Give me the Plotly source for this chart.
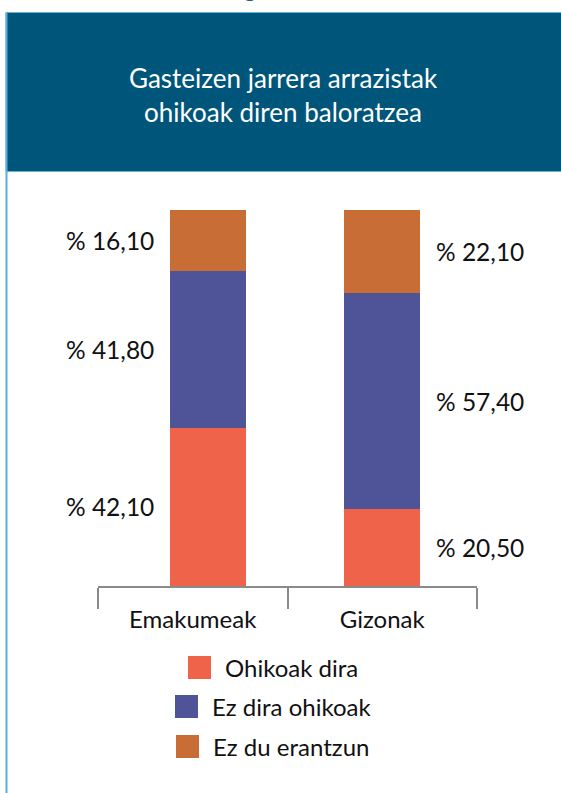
import plotly.graph_objects as go

# ---- data ----
categories = ["Emakumeak", "Gizonak"]
series_names = ["Ohikoak dira", "Ez dira ohikoak", "Ez du erantzun"]
ohikoak_dira = [42.10, 20.50]
ez_dira_ohikoak = [41.80, 57.40]
ez_du_erantzun = [16.10, 22.10]
series_values = [ohikoak_dira, ez_dira_ohikoak, ez_du_erantzun]
colors = ["#EE634A", "#4F5398", "#C86D35"]
title_text = "Gasteizen jarrera arrazistak<br>ohikoak diren baloratzea"
top_text = "9. grafikoa"

FONT = "Lato"
TXT = "#111111"
W, H = 561, 793
L, R, T, B = 98, 84, 210, 207
PW = W - L - R
PH = H - T - B


def px_x(px):
    return (px - L) / PW


def px_y(py):
    return (H - B - py) / PH


fig = go.Figure()

bar_width = [0.401, 0.401]
bar_offset = [-0.120, -0.2018]

for name, vals, col in zip(series_names, series_values, colors):
    fig.add_trace(go.Bar(
        x=categories, y=vals, name=name,
        marker=dict(color=col, line=dict(width=0)),
        width=bar_width, offset=bar_offset,
        showlegend=False, hoverinfo="skip",
    ))

# value labels
annotations = []
for ci, cat in enumerate(categories):
    base = 0.0
    for vals in series_values:
        v = vals[ci]
        mid = base + v / 2
        base += v
        label = "% " + f"{v:.2f}".replace(".", ",")
        if ci == 0:
            annotations.append(dict(x=cat, y=mid, xref="x", yref="y", text=label,
                                    showarrow=False, xanchor="right", yanchor="middle",
                                    xshift=-37, font=dict(family=FONT, size=24.5, color=TXT)))
        else:
            annotations.append(dict(x=cat, y=mid, xref="x", yref="y", text=label,
                                    showarrow=False, xanchor="left", yanchor="middle",
                                    xshift=52, font=dict(family=FONT, size=24.5, color=TXT)))

# title
annotations.append(dict(x=px_x(283), y=px_y(95), xref="paper", yref="paper",
                        text=title_text, showarrow=False, xanchor="center", yanchor="middle",
                        align="center",
                        font=dict(family=FONT, size=26, color="white")))
# cut-off top caption
annotations.append(dict(x=px_x(272), y=px_y(4), xref="paper", yref="paper",
                        text=top_text, showarrow=False, xanchor="center", yanchor="bottom",
                        font=dict(family=FONT, size=24, color="#1b5f80")))

shapes = []
# header box
shapes.append(dict(type="rect", xref="paper", yref="paper",
                   x0=px_x(6), x1=px_x(600), y0=px_y(171.5), y1=px_y(12.5),
                   fillcolor="#00567A", line=dict(color="#6AAFD6", width=1), layer="above"))
# left border
shapes.append(dict(type="line", xref="paper", yref="paper",
                   x0=px_x(6.5), x1=px_x(6.5), y0=px_y(12.5), y1=px_y(820),
                   line=dict(color="#5AACE0", width=2)))

# manual legend (large square swatches, centered rows)
legend_swatch_x = [188, 175, 176]
legend_row_y = [667.5, 706.5, 746.5]
sw = 23
for name, col, sx, ry in zip(series_names, colors, legend_swatch_x, legend_row_y):
    shapes.append(dict(type="rect", xref="paper", yref="paper",
                       x0=px_x(sx), x1=px_x(sx + sw), y0=px_y(ry + sw / 2), y1=px_y(ry - sw / 2),
                       fillcolor=col, line=dict(width=0)))
    annotations.append(dict(x=px_x(sx + sw + 12), y=px_y(ry), xref="paper", yref="paper",
                            text=name, showarrow=False, xanchor="left", yanchor="middle",
                            font=dict(family=FONT, size=24, color=TXT)))

fig.update_layout(
    width=W, height=H,
    margin=dict(l=L, r=R, t=T, b=B, pad=0),
    barmode="stack",
    paper_bgcolor="white", plot_bgcolor="white",
    showlegend=False,
    annotations=annotations,
    shapes=shapes,
    xaxis=dict(type="category", range=[-0.5, 1.5], showline=True, linecolor="#8a8a8a",
               linewidth=1.5, ticks="outside", tickson="boundaries", ticklen=21,
               tickcolor="#8a8a8a", tickwidth=1.5, showgrid=False, zeroline=False,
               ticklabelstandoff=11,
               tickfont=dict(family=FONT, size=24, color=TXT), fixedrange=True),
    yaxis=dict(range=[0, 100], visible=False, fixedrange=True),
)

fig.write_html("out.html", config={"displayModeBar": False},
               post_script="document.body.style.margin='0';document.body.style.overflow='hidden';")
